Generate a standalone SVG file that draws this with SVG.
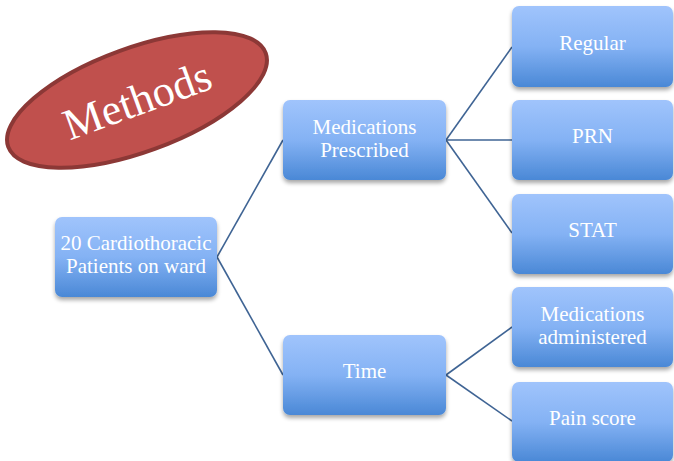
<svg xmlns="http://www.w3.org/2000/svg" width="674" height="461" viewBox="0 0 674 461">
<defs>
<linearGradient id="g" x1="0" y1="0" x2="0" y2="1">
<stop offset="0" stop-color="#a0c4fc"/>
<stop offset="0.5" stop-color="#84b2f4"/>
<stop offset="1" stop-color="#4a88d6"/>
</linearGradient>
<filter id="sh" x="-10%" y="-10%" width="125%" height="130%">
<feGaussianBlur in="SourceAlpha" stdDeviation="2"/>
<feOffset dx="0" dy="3"/>
<feComponentTransfer><feFuncA type="linear" slope="0.35"/></feComponentTransfer>
<feMerge><feMergeNode/><feMergeNode in="SourceGraphic"/></feMerge>
</filter>
<style>
.box{fill:url(#g);filter:url(#sh);}
.t{font-size:21px;fill:#ffffff;text-anchor:middle;}
.c{stroke:#3f6494;stroke-width:1.6;fill:none;}
</style>
</defs>
<g id="title">
<ellipse cx="137" cy="100" rx="137" ry="52" transform="rotate(-20 137 100)" fill="#c0504d" stroke="#8c3836" stroke-width="4"/>
<text x="137" y="115" transform="rotate(-20 137 100)" font-family="Liberation Serif,serif" font-size="44" fill="#ffffff" text-anchor="middle">Methods</text>
</g>
<g id="connectors">
<path class="c" d="M217,257 L283,140"/>
<path class="c" d="M217,257 L283,375"/>
<path class="c" d="M446,140 L512,47"/>
<path class="c" d="M446,140 L512,140"/>
<path class="c" d="M446,140 L512,233"/>
<path class="c" d="M446,375 L512,327"/>
<path class="c" d="M446,375 L512,421"/>
</g>
<g font-family="Liberation Serif,serif">
<g id="root">
<rect class="box" x="55" y="217" width="162" height="80" rx="7"/>
<text class="t" x="136" y="250">20 Cardiothoracic</text>
<text class="t" x="136" y="273">Patients on ward</text>
</g>
<g id="medsPrescribed">
<rect class="box" x="283" y="100" width="163" height="80" rx="7"/>
<text class="t" x="364.5" y="134">Medications</text>
<text class="t" x="364.5" y="157">Prescribed</text>
</g>
<g id="time">
<rect class="box" x="283" y="335" width="163" height="80" rx="7"/>
<text class="t" x="364.5" y="378">Time</text>
</g>
<g id="regular">
<rect class="box" x="512" y="6" width="161" height="81" rx="7"/>
<text class="t" x="592.5" y="50">Regular</text>
</g>
<g id="prn">
<rect class="box" x="512" y="100" width="161" height="80" rx="7"/>
<text class="t" x="592.5" y="143">PRN</text>
</g>
<g id="stat">
<rect class="box" x="512" y="194" width="161" height="80" rx="7"/>
<text class="t" x="592.5" y="237">STAT</text>
</g>
<g id="medsAdministered">
<rect class="box" x="512" y="287" width="161" height="80" rx="7"/>
<text class="t" x="592.5" y="321">Medications</text>
<text class="t" x="592.5" y="344">administered</text>
</g>
<g id="painScore">
<rect class="box" x="512" y="382" width="161" height="80" rx="7"/>
<text class="t" x="592.5" y="425">Pain score</text>
</g>
</g>
</svg>
